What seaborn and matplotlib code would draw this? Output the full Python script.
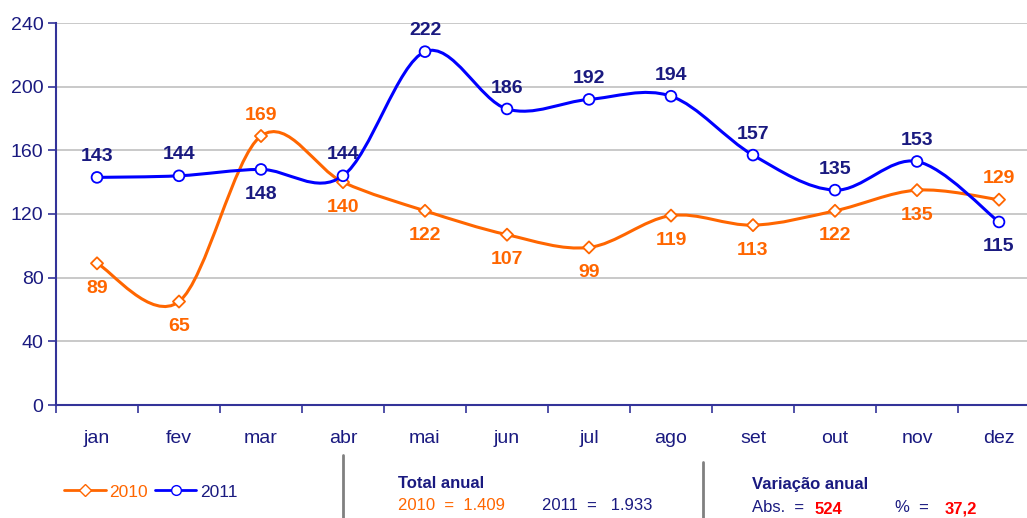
"""Monthly totals 2010 vs 2011 with smoothed lines."""

import matplotlib
matplotlib.use("Agg")
import matplotlib.pyplot as plt
from matplotlib.path import Path
from matplotlib.patches import PathPatch
from matplotlib.lines import Line2D
import seaborn as sns
import pandas as pd
import numpy as np

months = ["jan", "fev", "mar", "abr", "mai", "jun",
          "jul", "ago", "set", "out", "nov", "dez"]
v2010 = [89, 65, 169, 140, 122, 107, 99, 119, 113, 122, 135, 129]
v2011 = [143, 144, 148, 144, 222, 186, 192, 194, 157, 135, 153, 115]
# label above (+1) or below (-1) each point
pos2010 = [-1, -1, 1, -1, -1, -1, -1, -1, -1, -1, -1, 1]
pos2011 = [1, 1, -1, 1, 1, 1, 1, 1, 1, 1, 1, -1]

ORANGE = "#FF6600"
BLUE = "#0000FF"
NAVY = "#1A1A80"
AXIS = "#333399"

sns.set_theme(style="white")
plt.rcParams["font.family"] = ["Liberation Sans", "DejaVu Sans"]

df = pd.DataFrame({
    "mes": list(range(12)) * 2,
    "valor": v2010 + v2011,
    "ano": ["2010"] * 12 + ["2011"] * 12,
})


def smooth_path(xs, ys):
    """Cubic Bezier path through the points (Excel-style smoothing)."""
    pts = np.column_stack([xs, ys]).astype(float)
    verts = [pts[0]]
    codes = [Path.MOVETO]
    n = len(pts)
    for i in range(n - 1):
        p0 = pts[i - 1] if i > 0 else pts[i]
        p1, p2 = pts[i], pts[i + 1]
        p3 = pts[i + 2] if i + 2 < n else pts[i + 1]
        c1 = p1 + (p2 - p0) / 6
        c2 = p2 - (p3 - p1) / 6
        verts += [c1, c2, p2]
        codes += [Path.CURVE4] * 3
    return Path(verts, codes)


fig = plt.figure(figsize=(10.27, 5.18), dpi=100)
ax = fig.add_axes([56 / 1027, 1 - 405 / 518, 984 / 1027, 382 / 518])

for vals, color in [(v2010, ORANGE), (v2011, BLUE)]:
    ax.add_patch(PathPatch(smooth_path(range(12), vals), facecolor="none",
                           edgecolor=color, lw=2.2, zorder=3))

sns.scatterplot(data=df, x="mes", y="valor", hue="ano", style="ano",
                markers={"2010": "D", "2011": "o"},
                palette={"2010": ORANGE, "2011": BLUE},
                s=55, linewidth=1.3, legend=False, ax=ax, zorder=4)
pts = ax.collections[-1]
pts.set_edgecolor([ORANGE] * 12 + [BLUE] * 12)
pts.set_facecolor("white")
pts.set_sizes([38] * 12 + [60] * 12)

for vals, pos, color in [(v2010, pos2010, ORANGE), (v2011, pos2011, NAVY)]:
    for i in range(12):
        dy = 15 if pos[i] > 0 else -18
        ax.annotate(str(vals[i]), (i, vals[i]), xytext=(0, dy),
                    textcoords="offset points", ha="center", va="center",
                    color=color, fontsize=14, fontweight="bold")

ax.set_xlim(-0.5, 11.5)
ax.set_ylim(0, 240)
ax.set_yticks(range(0, 241, 40))
ax.set_xticks(np.arange(-0.5, 12, 1))
ax.set_xticklabels([])
ax.set_xticks(range(12), minor=True)
ax.set_xticklabels(months, minor=True)
ax.tick_params(axis="x", which="major", bottom=True, length=6, width=1.2,
               color=AXIS, direction="out")
ax.tick_params(axis="x", which="minor", bottom=True, length=0, pad=18,
               labelsize=14, labelcolor=NAVY)
ax.tick_params(axis="y", left=True, length=6, width=1.2, color=AXIS,
               direction="out", labelsize=14, labelcolor=NAVY, pad=3)
ax.yaxis.grid(True, color="#C0C0C0", lw=1.2)
ax.set_axisbelow(True)
ax.set_xlabel("")
ax.set_ylabel("")
for side in ["top", "right"]:
    ax.spines[side].set_visible(False)
for side in ["left", "bottom"]:
    ax.spines[side].set_color(AXIS)
    ax.spines[side].set_linewidth(1.5)

# legend
handles = [Line2D([], [], color=ORANGE, lw=2, marker="D", ms=6, mfc="white", mec=ORANGE),
           Line2D([], [], color=BLUE, lw=2, marker="o", ms=7, mfc="white", mec=BLUE)]
leg = fig.legend(handles, ["2010", "2011"], loc="center left",
                 bbox_to_anchor=(64 / 1027, 1 - 492 / 518), ncol=2, frameon=False,
                 fontsize=12.5, handlelength=2.4, handletextpad=0.2, columnspacing=0.4,
                 borderaxespad=0, borderpad=0)
for t, c in zip(leg.get_texts(), [ORANGE, NAVY]):
    t.set_color(c)

# separators
fig.add_artist(Line2D([343 / 1027] * 2, [0, 1 - 455 / 518], color="#808080", lw=2))
fig.add_artist(Line2D([703 / 1027] * 2, [0, 1 - 462 / 518], color="#808080", lw=2))


def ftext(x, y, s, color, bold=False, size=12):
    fig.text(x / 1027, 1 - y / 518, s, color=color, fontsize=size,
             fontweight="bold" if bold else "normal", va="center", ha="left")


ftext(398, 483, "Total anual", NAVY, bold=True)
ftext(398, 506, "2010  =  1.409", ORANGE)
ftext(542, 506, "2011  =   1.933", NAVY)
ftext(752, 485, "Variação anual", NAVY, bold=True)
ftext(752, 507, "Abs.  =", NAVY)
ftext(815, 509, "524", "#FF0000", bold=True)
ftext(895, 507, "%  =", NAVY)
ftext(945, 509, "37,2", "#FF0000", bold=True)

fig.savefig("out.png", dpi=100)
